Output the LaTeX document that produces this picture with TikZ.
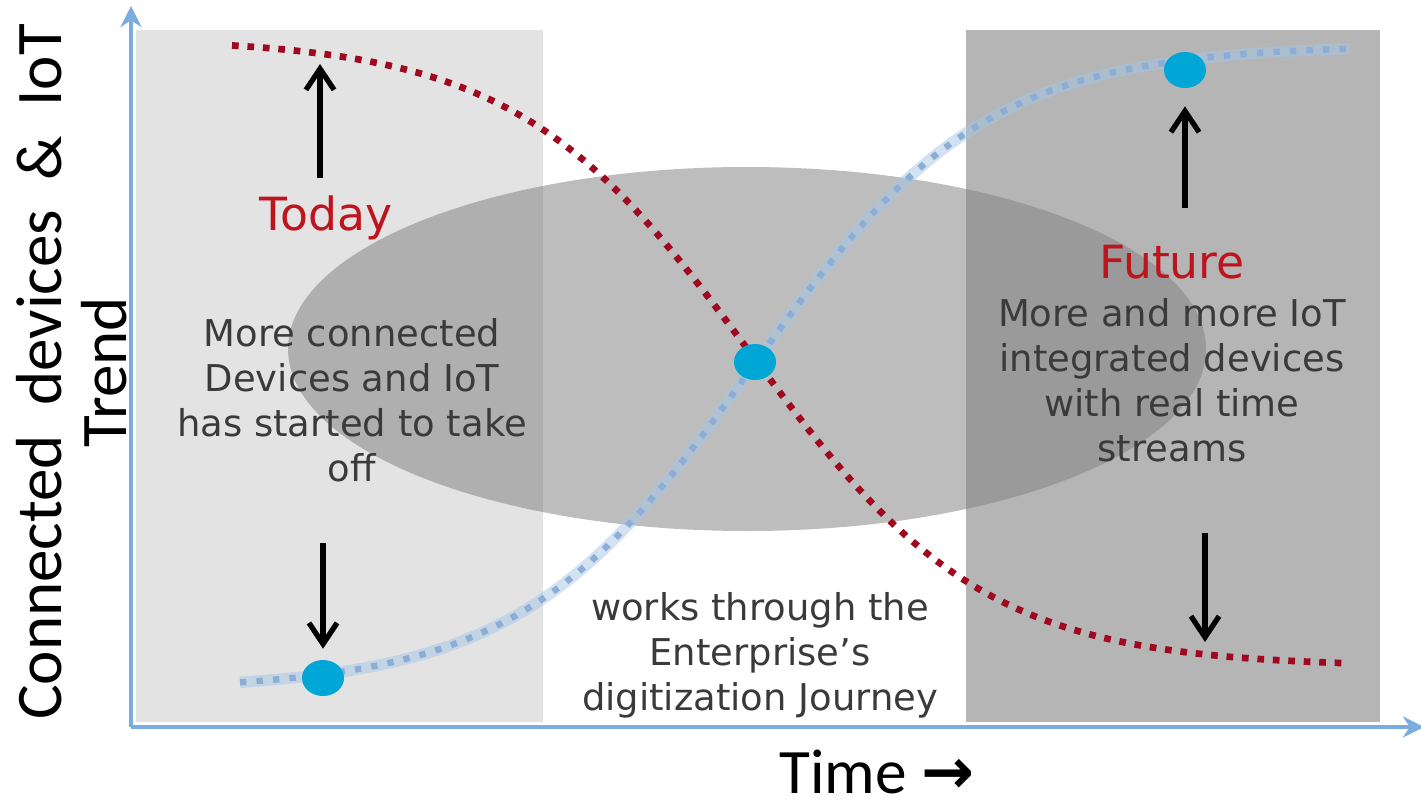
\documentclass[tikz,border=0pt]{standalone}
\usepackage{fontspec}
\setmainfont{DejaVu Sans}
\newfontfamily\axisfont{Carlito}
\newfontfamily\symfont{DejaVu Sans}
\usetikzlibrary{arrows.meta}
\usetikzlibrary{shapes.geometric}
\usetikzlibrary{positioning}

\definecolor{axisblue}{RGB}{122,172,224}
\definecolor{todaygray}{RGB}{227,227,227}
\definecolor{futuregray}{RGB}{181,181,181}
\definecolor{bandgray}{RGB}{130,130,130}
\definecolor{trendred}{RGB}{160,8,32}
\definecolor{labelred}{RGB}{190,20,30}
\definecolor{trendblue}{RGB}{165,198,232}
\definecolor{trenddot}{RGB}{140,174,214}
\definecolor{dotcyan}{RGB}{0,166,214}
\definecolor{bodytext}{RGB}{58,58,58}

\tikzset{
  axis/.style={line width=1.2pt,axisblue,-{Stealth[length=6pt,width=6pt]}},
  pointer/.style={line width=1.5pt,-{Straight Barb[length=6pt,width=8pt]}},
  dot/.style={ellipse,fill=dotcyan,minimum width=0.42cm,minimum height=0.36cm,inner sep=0pt},
  note/.style={align=center,text=bodytext,font=\fontsize{10.5}{12.8}\selectfont},
  era/.style={text=labelred,font=\fontsize{13}{15}\selectfont},
}

\begin{document}
\begin{tikzpicture}[x=0.01cm,y=-0.01cm]
    \useasboundingbox (0,0) rectangle (1421,806);

    % today and future bands
    \fill[todaygray] (136,30) rectangle (543,722);
    \fill[futuregray] (966,30) rectangle (1380,722);

    % transition zone
    \fill[bandgray,opacity=0.53] (747,349) ellipse [x radius=459, y radius=182];

    % axes
    \coordinate (O) at (131,727);
    \draw[axis] (O) -- (131,6);
    \draw[axis] (O) -- (1424,727);

    % trends
    \draw[trendblue,line width=3.2pt,opacity=0.5]
        plot[domain=240:1350,samples=90] (\x,{690-645/(1+exp(-(\x-752)/116))});
    \draw[trenddot,line width=1.8pt,dash pattern=on 1.8pt off 2.9pt]
        plot[domain=240:1350,samples=90] (\x,{690-645/(1+exp(-(\x-752)/116))});
    \draw[trendred,line width=1.9pt,dash pattern=on 1.9pt off 2.5pt]
        plot[domain=232:1345,samples=90] (\x,{38+629/(1+exp(-(\x-750)/117))});

    % key points
    \node[dot] (dotA) at (323,678) {};
    \node[dot] (dotB) at (755,362) {};
    \node[dot] (dotC) at (1185,70) {};

    % labels
    \node[era] (today) at (326,218) {Today};
    \node[era] (future) at (1172,262) {Future};
    \node[note] (nowtext) at (352,400) {More connected\\Devices and IoT\\has started to take\\off};
    \node[note] (futtext) at (1172,380) {More and more IoT\\integrated devices\\with real time\\streams};
    \node[note] (journey) at (760,655) {works through the\\Enterprise's\\digitization Journey};

    % pointers
    \coordinate (todayUp) at (320,178);
    \coordinate (todayTop) at (320,64);
    \coordinate (todayDown) at (323,543);
    \coordinate (futUp) at (1185,208);
    \coordinate (futDown) at (1205,533);
    \coordinate (futLow) at (1205,642);
    \draw[pointer] (todayUp) -- (todayTop);
    \draw[pointer,shorten >=3pt] (todayDown) -- (dotA.north);
    \draw[pointer,shorten >=5pt] (futUp) -- (dotC.south);
    \draw[pointer] (futDown) -- (futLow);

    % axis titles
    \node[rotate=90,align=center,font=\axisfont\fontsize{18.5}{18.5}\selectfont] (ylabel) at (72,372)
        {Connected\ \ devices\ \ \&\ \ IoT\\Trend};
    \node[inner sep=0pt,font=\axisfont\fontsize{18}{20}\selectfont] (xlabel) at (877,772) {Time {\symfont\bfseries →}};
\end{tikzpicture}
\end{document}
